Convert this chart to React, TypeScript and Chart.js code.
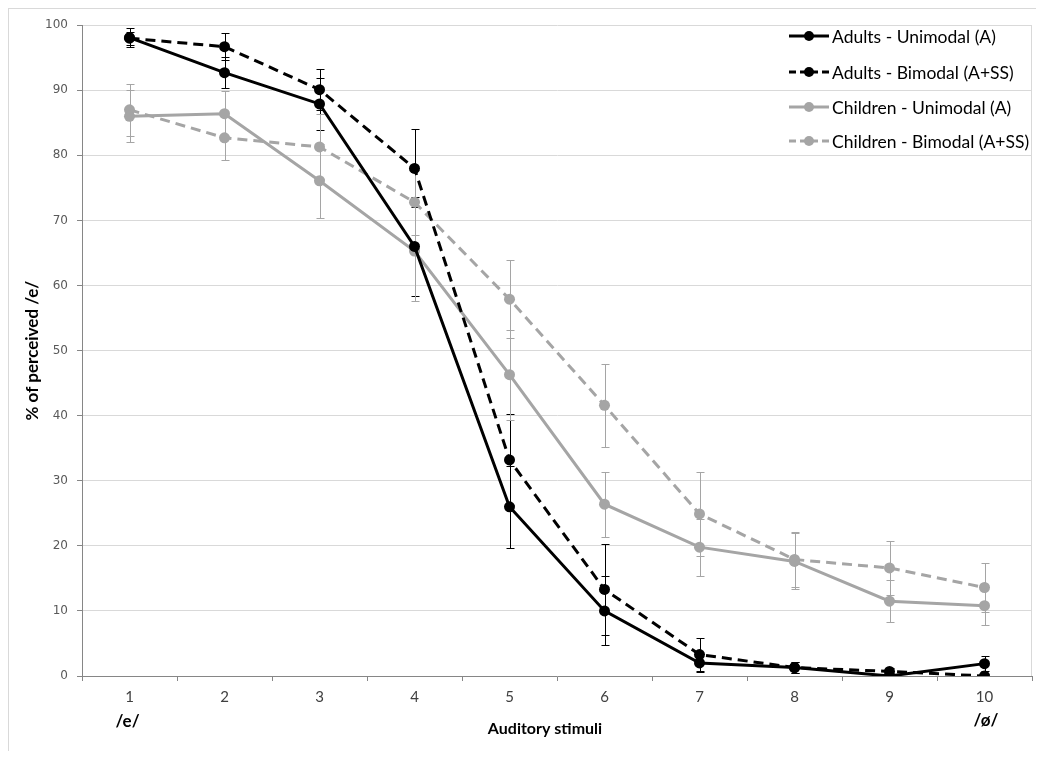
import React, { useEffect, useRef } from 'react';
import { Chart, registerables } from 'chart.js';

Chart.register(...registerables);

const categories = ['1', '2', '3', '4', '5', '6', '7', '8', '9', '10'];
const seriesNames = [
  'Adults - Unimodal (A)',
  'Adults - Bimodal (A+SS)',
  'Children - Unimodal (A)',
  'Children - Bimodal (A+SS)',
];
const adultsUni = [98.1, 92.7, 87.9, 66.0, 26.0, 10.0, 2.0, 1.3, 0.0, 1.9];
const adultsBi = [98.0, 96.7, 90.1, 78.0, 33.2, 13.3, 3.3, 1.3, 0.7, 0.0];
const childUni = [86.0, 86.4, 76.1, 65.3, 46.3, 26.4, 19.8, 17.6, 11.5, 10.8];
const childBi = [87.0, 82.7, 81.3, 72.8, 57.9, 41.6, 24.9, 17.9, 16.6, 13.6];

const adultsUniErr = [1.5, 2.4, 4.0, 7.6, 6.3, 5.3, 1.4, 0.9, 0.3, 1.2];
const adultsBiErr = [1.0, 2.1, 3.2, 6.0, 7.0, 7.0, 2.6, 0.9, 0.5, 0.3];
const childUniErr = [4.0, 3.5, 5.7, 7.7, 6.9, 5.0, 4.4, 4.3, 3.2, 2.9];
const childBiErr = [4.0, 3.4, 5.0, 5.0, 6.0, 6.4, 6.4, 4.2, 4.1, 3.7];

const yTicks = [0, 10, 20, 30, 40, 50, 60, 70, 80, 90, 100];
const endLabels = ['/e/', '/ø/'];
const xTitle = 'Auditory stimuli';
const yTitle = '% of perceived /e/';

const BLACK = '#000000';
const GRAY = '#a5a5a5';
const DASH = [10, 6];

export default function App() {
  const ref = useRef<HTMLCanvasElement>(null);

  useEffect(() => {
    document.documentElement.style.overflow = 'hidden';
    document.body.style.overflow = 'hidden';
    const canvas = ref.current;
    if (!canvas) return;
    const values = [adultsUni, adultsBi, childUni, childBi];
    const errors = [adultsUniErr, adultsBiErr, childUniErr, childBiErr];
    const colors = [BLACK, BLACK, GRAY, GRAY];
    const dashed = [false, true, false, true];

    const errorBars = {
      id: 'errorBars',
      beforeDatasetsDraw(chart: any) {
        const { ctx, chartArea } = chart;
        const xs = chart.scales.x;
        const ys = chart.scales.y;
        ctx.save();
        ctx.strokeStyle = '#d9d9d9';
        ctx.lineWidth = 1;
        ctx.beginPath();
        ctx.moveTo(Math.round(chartArea.right) - 0.5, chartArea.top);
        ctx.lineTo(Math.round(chartArea.right) - 0.5, chartArea.bottom);
        ctx.stroke();
        ctx.beginPath();
        ctx.rect(chartArea.left, chartArea.top - 10, chartArea.right - chartArea.left, chartArea.bottom - chartArea.top + 10);
        ctx.clip();
        values.forEach((vals, i) => {
          ctx.strokeStyle = colors[i];
          ctx.lineWidth = 1;
          vals.forEach((v, j) => {
            const e = errors[i][j];
            const px = Math.round(xs.getPixelForValue(j)) + 0.5;
            const top = Math.round(ys.getPixelForValue(v + e)) + 0.5;
            const bot = Math.round(ys.getPixelForValue(v - e)) + 0.5;
            ctx.beginPath();
            ctx.moveTo(px, top);
            ctx.lineTo(px, bot);
            ctx.moveTo(px - 4, top);
            ctx.lineTo(px + 4, top);
            ctx.moveTo(px - 4, bot);
            ctx.lineTo(px + 4, bot);
            ctx.stroke();
          });
        });
        ctx.restore();
      },
    };

    const extras = {
      id: 'extras',
      afterDraw(chart: any) {
        const { ctx, chartArea } = chart;
        const xs = chart.scales.x;
        ctx.save();
        ctx.fillStyle = '#000';
        ctx.font = 'bold 16px Lato';
        ctx.textAlign = 'center';
        ctx.textBaseline = 'middle';
        ctx.fillText(xTitle, 536, 720);
        ctx.save();
        ctx.translate(24, (chartArea.top + chartArea.bottom) / 2);
        ctx.rotate(-Math.PI / 2);
        ctx.font = 'bold 17px Lato';
        ctx.fillText(yTitle, 0, 0);
        ctx.restore();
        ctx.font = 'bold 17px Lato';
        ctx.fillText(endLabels[0], xs.getPixelForValue(0) - 2, 713);
        ctx.fillText(endLabels[1], xs.getPixelForValue(categories.length - 1) + 1.5, 712);
        const rowsY = [27, 63, 98, 132];
        ctx.font = '17.5px Lato';
        ctx.textAlign = 'left';
        seriesNames.forEach((name, i) => {
          const y = rowsY[i];
          ctx.strokeStyle = colors[i];
          ctx.fillStyle = colors[i];
          ctx.lineWidth = 3;
          ctx.setLineDash(dashed[i] ? [7, 4] : []);
          ctx.beginPath();
          ctx.moveTo(780, y);
          ctx.lineTo(820, y);
          ctx.stroke();
          ctx.setLineDash([]);
          ctx.beginPath();
          ctx.arc(800, y, 5, 0, Math.PI * 2);
          ctx.fill();
          ctx.fillStyle = '#000';
          ctx.fillText(name, 823, y + 1);
        });
        ctx.restore();
      },
    };

    const chart = new Chart(canvas, {
      type: 'line',
      data: {
        labels: categories,
        datasets: values.map((vals, i) => ({
          label: seriesNames[i],
          data: vals,
          borderColor: colors[i],
          backgroundColor: colors[i],
          borderWidth: 3,
          borderDash: dashed[i] ? DASH : [],
          pointRadius: 5.5,
          pointBorderWidth: 0,
          pointBackgroundColor: colors[i],
          tension: 0,
          fill: false,
        })),
      },
      options: {
        responsive: false,
        animation: false,
        layout: { padding: { top: 13, right: 12, left: 0, bottom: 0 } },
        plugins: { legend: { display: false }, tooltip: { enabled: false } },
        scales: {
          x: {
            type: 'category',
            offset: true,
            grid: {
              display: true,
              offset: true,
              drawOnChartArea: false,
              drawTicks: true,
              tickLength: 5,
              tickColor: '#868686',
            },
            border: { color: '#868686', width: 1 },
            ticks: {
              autoSkip: false,
              maxRotation: 0,
              padding: 7,
              color: '#404040',
              font: { family: 'Lato', size: 15 },
            },
            afterFit: (s: any) => {
              s.height = 75;
            },
          },
          y: {
            min: 0,
            max: 100,
            afterBuildTicks: (s: any) => {
              s.ticks = yTicks.map((v) => ({ value: v }));
            },
            grid: {
              color: '#d9d9d9',
              tickColor: '#868686',
              tickLength: 5,
              drawTicks: true,
            },
            border: { color: '#868686', width: 1 },
            ticks: {
              padding: 9,
              color: '#595959',
              font: { family: 'DejaVu Sans', size: 12 },
            },
            afterFit: (s: any) => {
              s.width = 73;
            },
          },
        },
      },
      plugins: [errorBars, extras],
    });
    return () => chart.destroy();
  }, []);

  return (
    <div
      style={{
        width: 1035,
        height: 742,
        borderLeft: '1px solid #d9d9d9',
        borderTop: '1px solid #d9d9d9',
      }}
    >
      <canvas ref={ref} width={1035} height={742} style={{ display: 'block' }} />
    </div>
  );
}
